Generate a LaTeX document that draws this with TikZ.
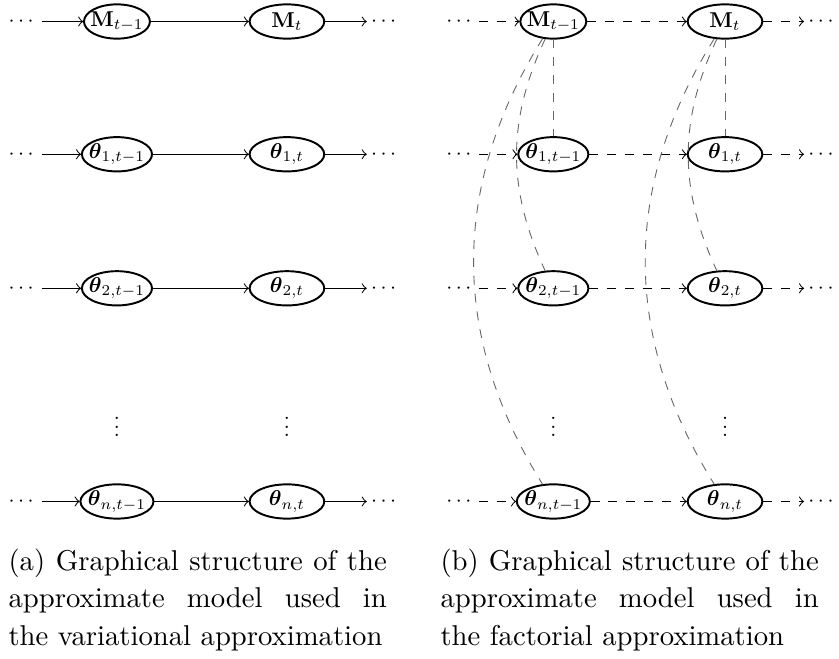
\documentclass[tikz,border=0pt]{standalone}
\usepackage{amsmath,amssymb}
\usetikzlibrary{shapes,arrows}

\begin{document}
\begin{tikzpicture}[state/.style={ellipse,draw,line width=0.65pt,inner xsep=-1.5pt,inner ysep=0pt,minimum width=1.22cm,minimum height=0.56cm,scale=0.72,transform shape},
  past/.style={state,minimum width=1.05cm},
  dd/.style={inner sep=1.8pt,scale=0.72,transform shape},
  tr/.style={->,line width=0.35pt},
  fac/.style={->,dashed,line width=0.35pt},
  lnk/.style={dashed,line width=0.3pt,black!60},
  subcap/.style={anchor=north west,inner sep=0pt,text width=4.45cm,align=justify,font=\fontsize{9.6}{12.5}\selectfont}]
		\useasboundingbox (0,0) rectangle (9.871,-7.753);
		\node (Ma1)[past] at (1.376,-0.253) {$\mathbf{M}_{t-1}$};
		\node (Ma2)[state] at (3.376,-0.253) {$\mathbf{M}_t$};
		\node (Ta11)[past] at (1.376,-1.815) {$\boldsymbol{\theta}_{1,t-1}$};
		\node (Ta12)[state] at (3.376,-1.815) {$\boldsymbol{\theta}_{1,t}$};
		\node (Ta21)[past] at (1.376,-3.392) {$\boldsymbol{\theta}_{2,t-1}$};
		\node (Ta22)[state] at (3.376,-3.392) {$\boldsymbol{\theta}_{2,t}$};
		\node (Tan1)[past] at (1.376,-5.9) {$\boldsymbol{\theta}_{n,t-1}$};
		\node (Tan2)[state] at (3.376,-5.9) {$\boldsymbol{\theta}_{n,t}$};
		\node (va1)[dd] at (1.376,-4.95) {$\vdots$};
		\node (va2)[dd] at (3.376,-4.95) {$\vdots$};
		\node (la0)[dd] at (0.27,-0.253) {$\cdots$};
		\node (ra0)[dd] at (4.535,-0.253) {$\cdots$};
		\node (la1)[dd] at (0.27,-1.815) {$\cdots$};
		\node (ra1)[dd] at (4.535,-1.815) {$\cdots$};
		\node (la2)[dd] at (0.27,-3.392) {$\cdots$};
		\node (ra2)[dd] at (4.535,-3.392) {$\cdots$};
		\node (lan)[dd] at (0.27,-5.9) {$\cdots$};
		\node (ran)[dd] at (4.535,-5.9) {$\cdots$};
		\draw[tr] (la0) edge (Ma1) (Ma1) edge (Ma2) (Ma2) edge (ra0);
		\draw[tr] (la1) edge (Ta11) (Ta11) edge (Ta12) (Ta12) edge (ra1);
		\draw[tr] (la2) edge (Ta21) (Ta21) edge (Ta22) (Ta22) edge (ra2);
		\draw[tr] (lan) edge (Tan1) (Tan1) edge (Tan2) (Tan2) edge (ran);
		\node (Mb1)[past] at (6.51,-0.253) {$\mathbf{M}_{t-1}$};
		\node (Mb2)[state] at (8.53,-0.253) {$\mathbf{M}_t$};
		\node (Tb11)[past] at (6.51,-1.815) {$\boldsymbol{\theta}_{1,t-1}$};
		\node (Tb12)[state] at (8.53,-1.815) {$\boldsymbol{\theta}_{1,t}$};
		\node (Tb21)[past] at (6.51,-3.392) {$\boldsymbol{\theta}_{2,t-1}$};
		\node (Tb22)[state] at (8.53,-3.392) {$\boldsymbol{\theta}_{2,t}$};
		\node (Tbn1)[past] at (6.51,-5.9) {$\boldsymbol{\theta}_{n,t-1}$};
		\node (Tbn2)[state] at (8.53,-5.9) {$\boldsymbol{\theta}_{n,t}$};
		\node (vb1)[dd] at (6.51,-4.95) {$\vdots$};
		\node (vb2)[dd] at (8.53,-4.95) {$\vdots$};
		\node (lb0)[dd] at (5.42,-0.253) {$\cdots$};
		\node (rb0)[dd] at (9.68,-0.253) {$\cdots$};
		\node (lb1)[dd] at (5.42,-1.815) {$\cdots$};
		\node (rb1)[dd] at (9.68,-1.815) {$\cdots$};
		\node (lb2)[dd] at (5.42,-3.392) {$\cdots$};
		\node (rb2)[dd] at (9.68,-3.392) {$\cdots$};
		\node (lbn)[dd] at (5.42,-5.9) {$\cdots$};
		\node (rbn)[dd] at (9.68,-5.9) {$\cdots$};
		\draw[fac] (lb0) edge (Mb1) (Mb1) edge (Mb2) (Mb2) edge (rb0);
		\draw[fac] (lb1) edge (Tb11) (Tb11) edge (Tb12) (Tb12) edge (rb1);
		\draw[fac] (lb2) edge (Tb21) (Tb21) edge (Tb22) (Tb22) edge (rb2);
		\draw[fac] (lbn) edge (Tbn1) (Tbn1) edge (Tbn2) (Tbn2) edge (rbn);
		\draw[lnk] (Mb1) edge (Tb11) (Mb1) edge[bend right=25] (Tb21) (Mb1) edge[bend right=32] (Tbn1);
		\draw[lnk] (Mb2) edge (Tb12) (Mb2) edge[bend right=25] (Tb22) (Mb2) edge[bend right=32] (Tbn2);
		\node (capa)[subcap] at (0.094,-6.45) {\hyphenpenalty=10000 (a) Graphical structure of the\linebreak approximate model used in\linebreak the variational approximation};
		\node (capb)[subcap] at (5.176,-6.45) {\hyphenpenalty=10000 (b) Graphical structure of the\linebreak approximate model used in\linebreak the factorial approximation};
		\end{tikzpicture}
\end{document}
